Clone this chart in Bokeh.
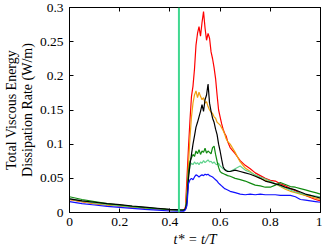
from bokeh.plotting import figure
from bokeh.models import FixedTicker, Span, LinearAxis
from bokeh.embed import file_html
from bokeh.resources import INLINE

t = [0.0, 0.05, 0.1, 0.15, 0.2, 0.25, 0.3, 0.35, 0.4, 0.44, 0.455,
     0.462, 0.468, 0.474, 0.48, 0.486, 0.492, 0.498, 0.504, 0.51, 0.516,
     0.522, 0.528, 0.534, 0.54, 0.546, 0.552, 0.558, 0.564, 0.57, 0.576,
     0.582, 0.588, 0.594, 0.6, 0.606, 0.612, 0.618, 0.624, 0.63,
     0.64, 0.66, 0.68, 0.7, 0.72, 0.74, 0.76, 0.78, 0.8, 0.82,
     0.84, 0.86, 0.88, 0.9, 0.92, 0.94, 0.96, 0.98, 1.0]

red = [0.019, 0.016, 0.013, 0.011, 0.0095, 0.008, 0.0065, 0.0052, 0.0038, 0.0033, 0.0033,
       0.008, 0.05, 0.095, 0.135, 0.17, 0.185, 0.21, 0.245, 0.262, 0.272,
       0.258, 0.278, 0.294, 0.27, 0.252, 0.262, 0.255, 0.235, 0.225, 0.212,
       0.196, 0.172, 0.15, 0.14, 0.13, 0.122, 0.116, 0.112, 0.104,
       0.095, 0.086, 0.076, 0.069, 0.064, 0.058, 0.054, 0.05, 0.047, 0.046,
       0.042, 0.039, 0.035, 0.032, 0.028, 0.025, 0.022, 0.019, 0.017]

orange = [0.019, 0.016, 0.013, 0.011, 0.0095, 0.008, 0.0065, 0.0052, 0.0038, 0.0033, 0.0033,
          0.006, 0.03, 0.07, 0.11, 0.14, 0.16, 0.172, 0.178, 0.168, 0.176,
          0.17, 0.165, 0.168, 0.16, 0.162, 0.155, 0.15, 0.147, 0.145, 0.14,
          0.138, 0.132, 0.13, 0.128, 0.124, 0.12, 0.115, 0.108, 0.104,
          0.1, 0.088, 0.074, 0.065, 0.06, 0.054, 0.05, 0.047, 0.045, 0.042,
          0.038, 0.034, 0.031, 0.029, 0.027, 0.025, 0.023, 0.021, 0.019]

black = [0.02, 0.017, 0.015, 0.013, 0.0115, 0.0095, 0.0078, 0.0062, 0.0045, 0.0038, 0.0036,
         0.005, 0.015, 0.05, 0.07, 0.085, 0.1, 0.112, 0.125, 0.132, 0.14,
         0.148, 0.158, 0.148, 0.165, 0.172, 0.188, 0.16, 0.148, 0.138, 0.132,
         0.122, 0.114, 0.1, 0.09, 0.078, 0.067, 0.063, 0.061, 0.06,
         0.06, 0.062, 0.06, 0.058, 0.056, 0.053, 0.05, 0.046, 0.044, 0.042,
         0.04, 0.037, 0.035, 0.033, 0.03, 0.027, 0.025, 0.023, 0.021]

green = [0.023, 0.019, 0.016, 0.013, 0.011, 0.009, 0.0072, 0.0058, 0.0042, 0.0036, 0.0035,
         0.005, 0.02, 0.06, 0.075, 0.08, 0.085, 0.082, 0.09, 0.086, 0.092,
         0.085, 0.09, 0.088, 0.094, 0.087, 0.09, 0.088, 0.086, 0.095, 0.097,
         0.085, 0.075, 0.066, 0.06, 0.058, 0.057, 0.056, 0.055, 0.054,
         0.053, 0.05, 0.048, 0.046, 0.043, 0.04, 0.039, 0.037, 0.037, 0.04,
         0.044, 0.041, 0.038, 0.037, 0.035, 0.033, 0.031, 0.029, 0.027]

lightgreen = [0.02, 0.017, 0.014, 0.012, 0.01, 0.0085, 0.0068, 0.0055, 0.004, 0.0035, 0.0034,
              0.005, 0.02, 0.055, 0.068, 0.072, 0.07, 0.074, 0.071, 0.073, 0.07,
              0.074, 0.072, 0.076, 0.073, 0.075, 0.077, 0.074, 0.075, 0.072, 0.074,
              0.071, 0.07, 0.072, 0.068, 0.066, 0.064, 0.063, 0.062, 0.061,
              0.06, 0.064, 0.068, 0.062, 0.059, 0.055, 0.052, 0.049, 0.046, 0.042,
              0.039, 0.036, 0.033, 0.03, 0.028, 0.026, 0.025, 0.024, 0.023]

blue = [0.016, 0.013, 0.011, 0.009, 0.0075, 0.006, 0.0045, 0.0035, 0.0022, 0.0018, 0.0018,
        0.004, 0.01, 0.042, 0.048, 0.05, 0.048, 0.052, 0.055, 0.054, 0.052,
        0.054, 0.055, 0.054, 0.056, 0.055, 0.056, 0.054, 0.053, 0.052, 0.05,
        0.048, 0.046, 0.043, 0.041, 0.039, 0.037, 0.035, 0.034, 0.033,
        0.031, 0.029, 0.027, 0.026, 0.027, 0.026, 0.027, 0.026, 0.026, 0.026,
        0.025, 0.025, 0.025, 0.023, 0.019, 0.018, 0.017, 0.016, 0.015]

shock_time = 0.436

x_ticks = [0, 0.2, 0.4, 0.6, 0.8, 1]
x_labels = ["0", "0.2", "0.4", "0.6", "0.8", "1"]
y_ticks = [0, 0.05, 0.1, 0.15, 0.2, 0.25, 0.3]
y_labels = ["0", "0.05", "0.1", "0.15", "0.2", "0.25", "0.3"]

FONT = "Liberation Serif"

p = figure(width=322, height=250, x_range=(0, 1), y_range=(0, 0.3),
           output_backend="svg", toolbar_location=None,
           min_border_left=69, min_border_right=2, min_border_top=7, min_border_bottom=38)
p.background_fill_color = "white"
p.border_fill_color = "white"
p.outline_line_color = "black"
p.outline_line_width = 1
p.xgrid.visible = False
p.ygrid.visible = False

for ax in (p.xaxis[0], p.yaxis[0]):
    ax.major_tick_in = 4
    ax.major_tick_out = 0
    ax.minor_tick_in = 0
    ax.minor_tick_out = 0
    ax.major_label_text_font = FONT
    ax.major_label_text_font_size = "13.5px"
    ax.major_label_text_color = "black"
    ax.axis_label_text_font = FONT
    ax.axis_label_text_font_size = "14px"
    ax.axis_label_text_font_style = "normal"
    ax.axis_label_text_color = "black"
    ax.axis_line_color = "black"

p.xaxis[0].ticker = FixedTicker(ticks=x_ticks)
p.xaxis[0].major_label_overrides = dict(zip(x_ticks, x_labels))
p.yaxis[0].ticker = FixedTicker(ticks=y_ticks)
p.yaxis[0].major_label_overrides = dict(zip(y_ticks, y_labels))
p.xaxis[0].major_label_standoff = 5
p.yaxis[0].major_label_standoff = 6
p.xaxis[0].axis_label = "t* = t/T"
p.xaxis[0].axis_label_text_font_style = "italic"
p.xaxis[0].axis_label_standoff = 3
p.yaxis[0].axis_label = "Total Viscous Energy\nDissipation Rate (W/m)"
p.yaxis[0].axis_label_text_line_height = 1.05
p.yaxis[0].axis_label_standoff = 2

# mirrored ticks on top and right (no labels)
top = LinearAxis(ticker=FixedTicker(ticks=x_ticks), major_tick_in=4, major_tick_out=0,
                 minor_tick_in=0, minor_tick_out=0,
                 major_label_overrides={v: "" for v in x_ticks},
                 major_label_orientation="vertical",
                 major_label_standoff=0, axis_line_color="black")
right = LinearAxis(ticker=FixedTicker(ticks=y_ticks), major_tick_in=4, major_tick_out=0,
                   minor_tick_in=0, minor_tick_out=0,
                   major_label_overrides={v: "" for v in y_ticks},
                   major_label_standoff=0, axis_line_color="black")
p.add_layout(top, "above")
p.add_layout(right, "right")

p.add_layout(Span(location=shock_time, dimension="height", line_color="#40d890", line_width=2))

lw = 1.2
p.line(t, red, line_color="#ff0000", line_width=lw)
p.line(t, orange, line_color="#f0a010", line_width=lw)
p.line(t, lightgreen, line_color="#5fd38d", line_width=lw)
p.line(t, green, line_color="#108a10", line_width=lw)
p.line(t, black, line_color="black", line_width=lw)
p.line(t, blue, line_color="#1010ff", line_width=lw)

open("out.html", "w").write(file_html(p, INLINE))
